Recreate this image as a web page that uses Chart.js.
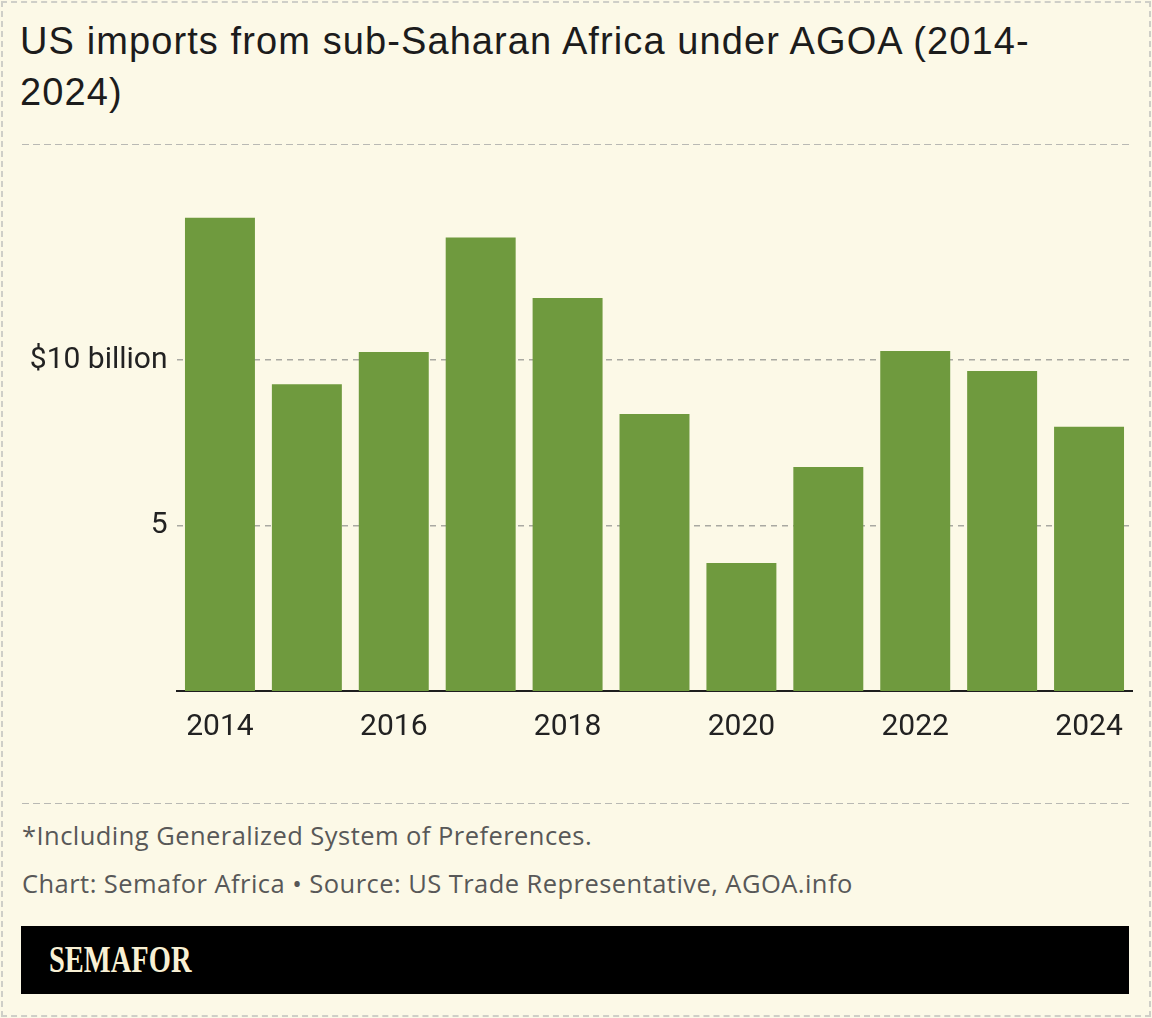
<!DOCTYPE html>
<html>
<head>
<meta charset="utf-8">
<script src="https://cdn.jsdelivr.net/npm/chart.js@4/dist/chart.umd.min.js"></script>
<style>
  html, body { margin:0; padding:0; background:#fcf9e7; }
  body { width:1152px; height:1018px; position:relative; overflow:hidden; }
  .frame { position:absolute; left:1px; top:1px; width:1146px; height:1012px; border:2px dashed #cfcfc8; }
  .title { position:absolute; left:20px; top:16px; width:1125px; font-family:"Liberation Sans", Arial, sans-serif; font-size:38px; letter-spacing:1.1px; line-height:51px; color:#1c1c1c; white-space:nowrap; }
  .sep { position:absolute; left:22px; width:1107px; height:1px; background:repeating-linear-gradient(to right, #b9b9b4 0 7px, transparent 7px 11px); }
  .note { position:absolute; left:22px; font-family:"Open Sans", "Noto Sans", sans-serif; font-size:25.5px; letter-spacing:0.45px; line-height:30px; color:#585858; white-space:nowrap; }
  .logo { position:absolute; left:21px; top:926px; width:1108px; height:68px; background:#000; }
  .logo span { position:absolute; left:28px; top:9px; font-family:"Liberation Serif", "DejaVu Serif", serif; font-weight:bold; font-size:37px; line-height:50px; color:#f8f0d4; transform:scaleX(0.77); transform-origin:left center; }
  #c { position:absolute; left:0; top:150px; }
</style>
</head>
<body>
<div class="frame"></div>
<div class="title">US imports from sub-Saharan Africa under AGOA (2014-<br>2024)</div>
<div class="sep" style="top:144px"></div>
<canvas id="c" width="1152" height="620"></canvas>
<div class="sep" style="top:803px"></div>
<div class="note" style="top:820px">*Including Generalized System of Preferences.</div>
<div class="note" style="top:868px">Chart: Semafor Africa • Source: US Trade Representative, AGOA.info</div>
<div class="logo"><span>SEMAFOR</span></div>
<script>
const years = ['2014','2015','2016','2017','2018','2019','2020','2021','2022','2023','2024'];
const importsBillion = [14.3, 9.27, 10.24, 13.7, 11.87, 8.37, 3.87, 6.77, 10.27, 9.67, 7.98];
const yTickValues = [5, 10];
const yTickLabels = ['5', '$10 billion'];
const xShownLabels = ['2014','2016','2018','2020','2022','2024'];

const tickFont = { family: 'Roboto, "Noto Sans", sans-serif', size: 30 };

new Chart(document.getElementById('c'), {
  type: 'bar',
  data: {
    labels: years,
    datasets: [{
      data: importsBillion,
      backgroundColor: '#6f9a3e',
      borderWidth: 0,
      barPercentage: 0.805,
      categoryPercentage: 1
    }]
  },
  options: {
    responsive: false,
    animation: false,
    devicePixelRatio: 1,
    layout: { padding: { top: 44.5, right: 19.5, left: 0, bottom: 0 } },
    plugins: { legend: { display: false }, tooltip: { enabled: false } },
    scales: {
      x: {
        grid: { display: true, color: 'transparent', drawTicks: false },
        border: { display: true, color: '#1e1e1e', width: 2 },
        ticks: {
          autoSkip: false, maxRotation: 0, padding: 18,
          color: '#222', font: tickFont,
          callback: function(v, i) { const l = years[i]; return xShownLabels.includes(l) ? l : ''; }
        },
        afterFit: function(s) { s.height = 79; }
      },
      y: {
        min: 0, max: 15,
        grid: { color: '#a9a9a2', lineWidth: 1.5, drawTicks: false },
        border: { display: false, dash: [6, 5] },
        ticks: {
          padding: 9, color: '#222', font: tickFont,
          callback: function(v) { const k = yTickValues.indexOf(v); return k >= 0 ? yTickLabels[k] : ''; }
        },
        afterBuildTicks: function(s) { s.ticks = yTickValues.map(v => ({ value: v })); },
        afterFit: function(s) { s.width = 176.5; }
      }
    }
  }
});
</script>
</body>
</html>
